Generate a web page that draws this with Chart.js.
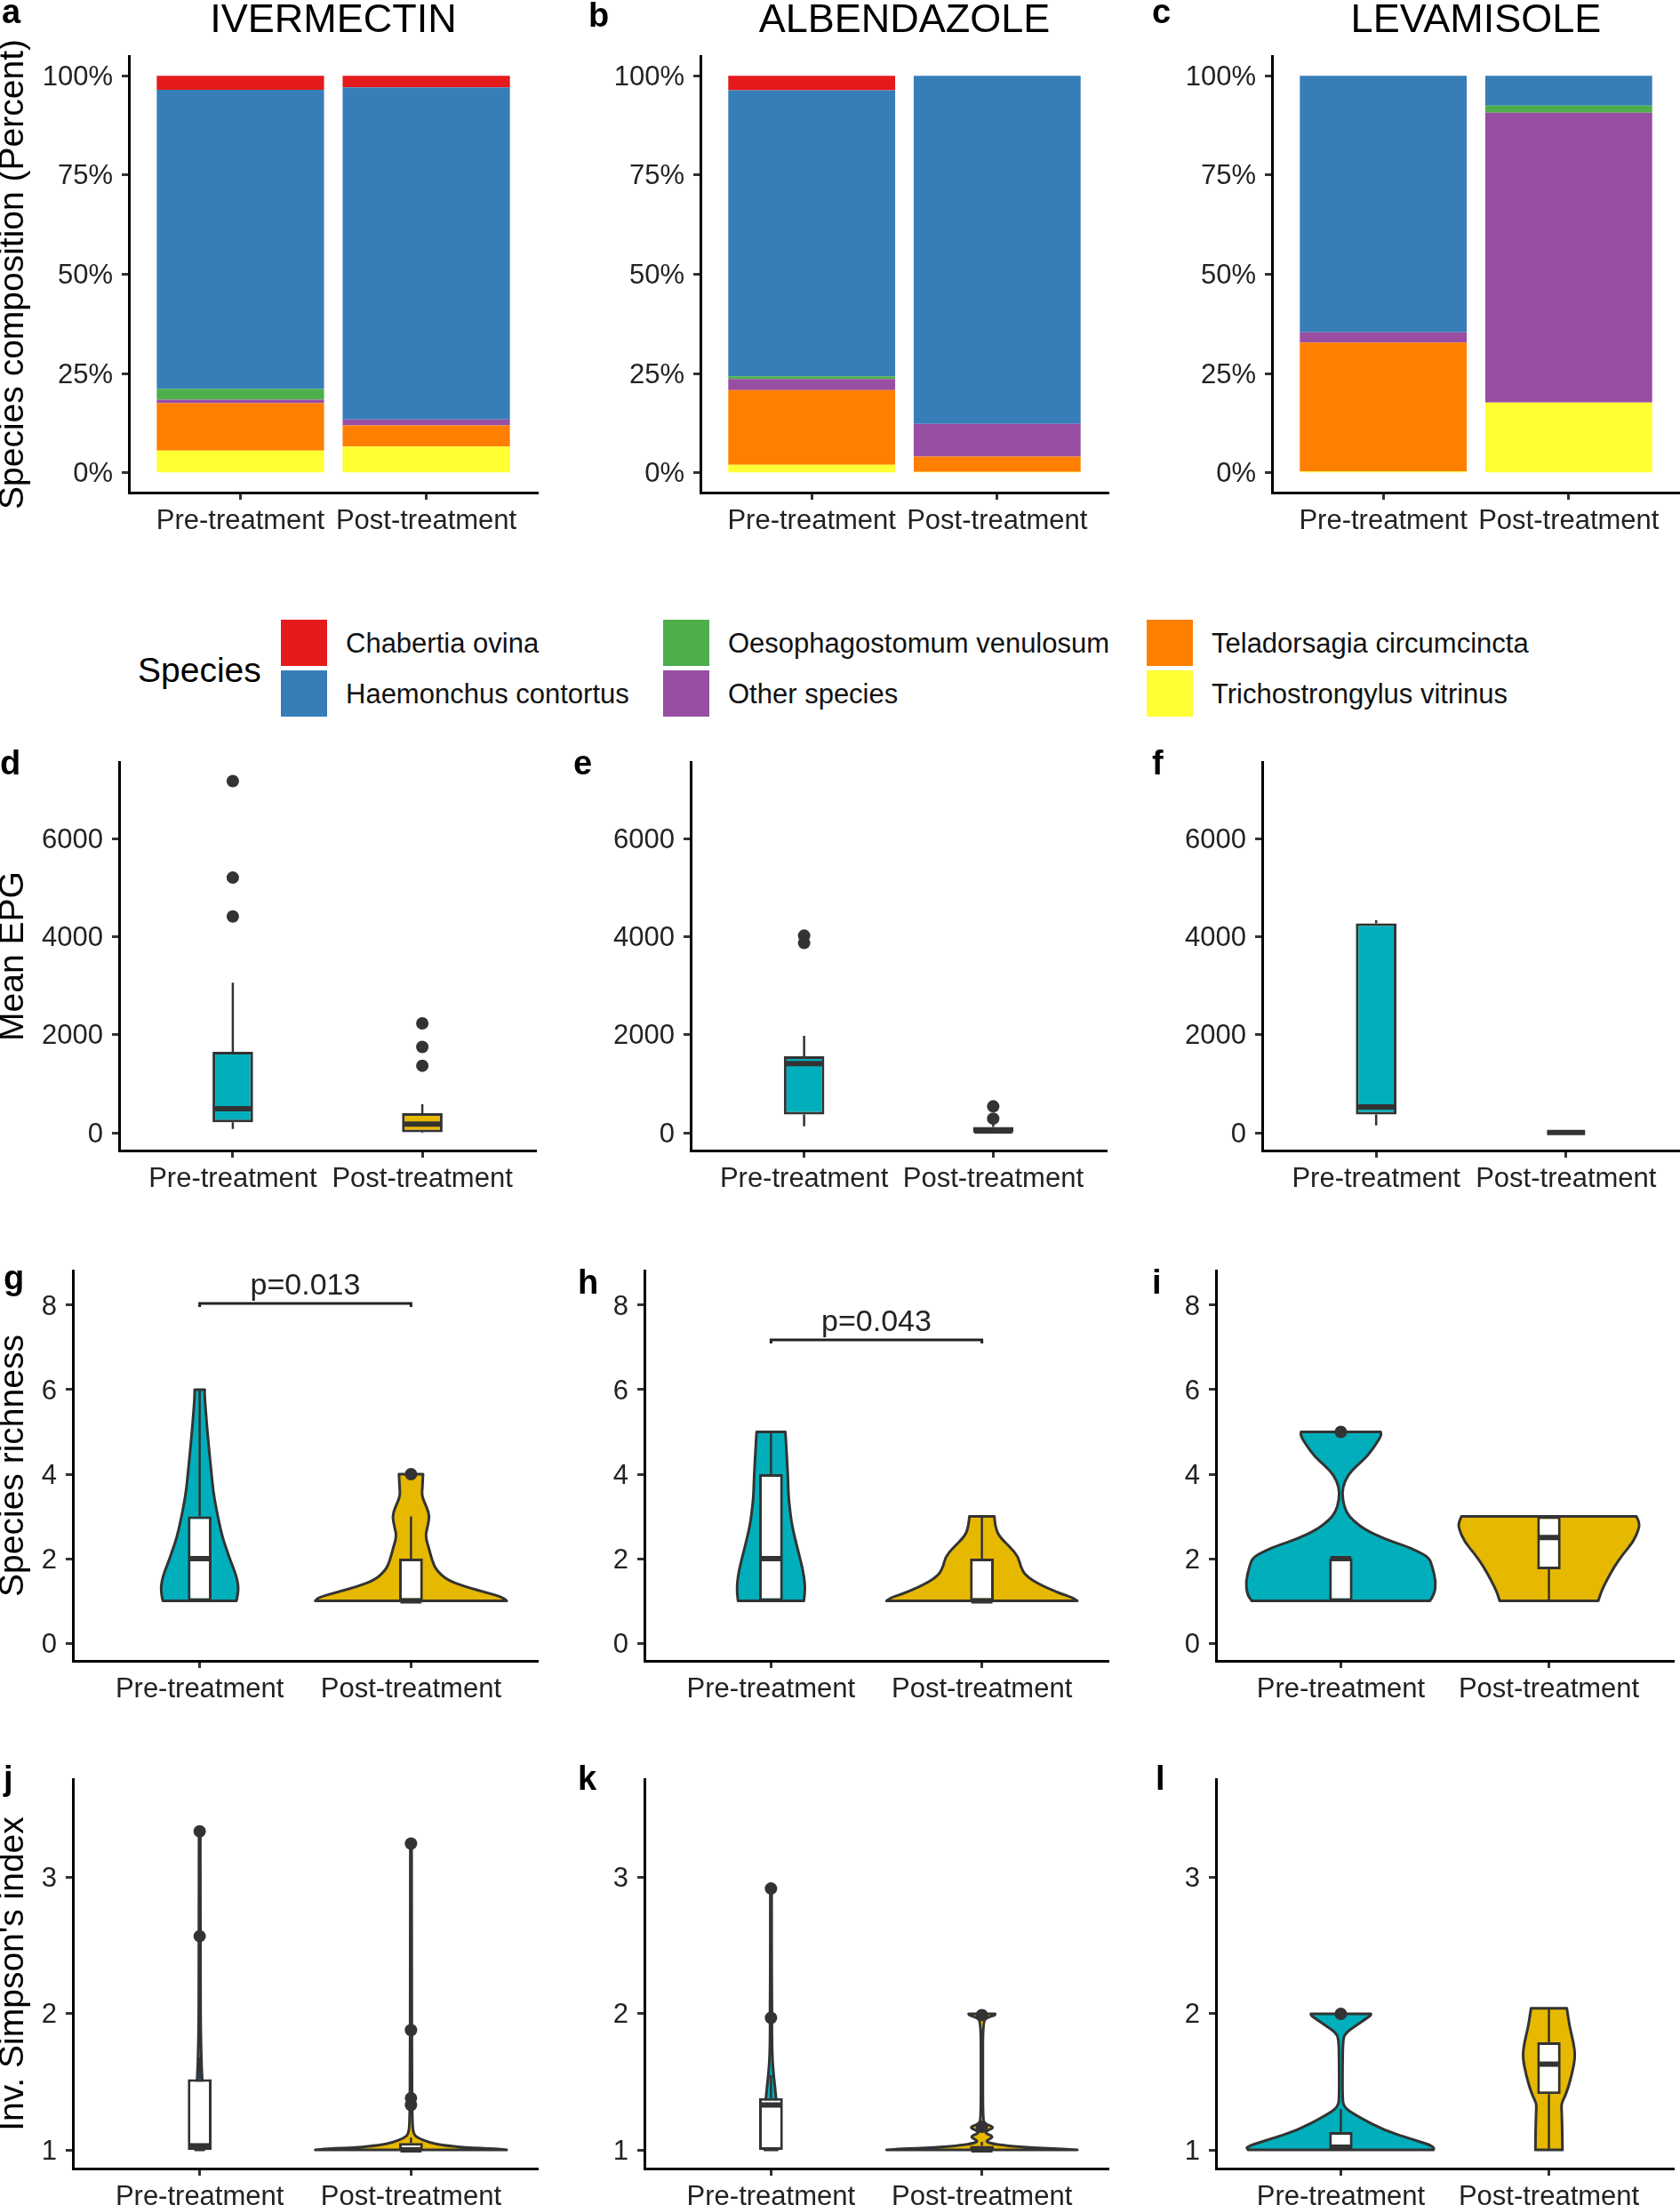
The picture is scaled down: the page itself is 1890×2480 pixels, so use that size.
<!DOCTYPE html>
<html>
<head>
<meta charset="utf-8">
<title>Species composition, EPG and diversity by drug</title>
<script src="https://cdn.jsdelivr.net/npm/chart.js@4.4.1/dist/chart.umd.min.js"></script>
<style>
  html, body { margin: 0; padding: 0; background: #fff; }
  body { width: 1890px; height: 2480px; position: relative; overflow: hidden;
         font-family: "Liberation Sans", Arial, Helvetica, sans-serif; }
  canvas { position: absolute; }
  .txt { position: absolute; white-space: nowrap; line-height: 1; color: #000; }
  .key { position: absolute; width: 52px; height: 52px; }
</style>
</head>
<body>
<script>
Chart.defaults.font.family = '"Liberation Sans", Arial, Helvetica, sans-serif';
Chart.defaults.color = "#222";

// ---------- data ----------
const groups = ["Pre-treatment", "Post-treatment"];
const drugs = ["IVERMECTIN", "ALBENDAZOLE", "LEVAMISOLE"];
const speciesNames = [
  "Chabertia ovina",
  "Haemonchus contortus",
  "Oesophagostomum venulosum",
  "Other species",
  "Teladorsagia circumcincta",
  "Trichostrongylus vitrinus",
];
const speciesColors = ["#E41A1C", "#377EB8", "#4DAF4A", "#984EA3", "#FF7F00", "#FFFF33"];

// species composition (%), same order as speciesNames
const ivmPre = [3.5, 75.4, 2.7, 0.9, 11.9, 5.6];
const ivmPost = [2.9, 83.7, 0, 1.5, 5.3, 6.6];
const albPre = [3.6, 72.1, 0.7, 2.8, 18.8, 2.0];
const albPost = [0, 87.7, 0, 8.2, 3.9, 0.2];
const levPre = [0, 64.6, 0, 2.6, 32.5, 0.3];
const levPost = [0, 7.5, 1.8, 73.0, 0, 17.7];

const pctTicks = [0, 25, 50, 75, 100];
const epgTicks = [0, 2000, 4000, 6000];
const richTicks = [0, 2, 4, 6, 8];
const simTicks = [1, 2, 3];

// box stats: lower whisker, Q1, median, Q3, upper whisker
const epgIvmPre = [78, 216, 490, 1650, 3060];
const epgIvmPost = [0, 12, 180, 402, 582];
const epgAlbPre = [132, 372, 1410, 1560, 1980];
const epgAlbPost = [0, 0, 40, 120, 240];
const epgLevPre = [150, 372, 528, 4272, 4332];
const epgLevPost = [0, 0, 5, 15, 20];
const epgIvmPreOut = [4410, 5202, 7170];
const epgIvmPostOut = [1368, 1752, 2232];
const epgAlbPreOut = [3870, 4020];
const epgAlbPostOut = [290, 540];
const epgLevPreOut = [];
const epgLevPostOut = [];

const richIvmPre = [1, 1, 2, 3, 6];
const richIvmPost = [1, 1, 1, 2, 3];
const richAlbPre = [1, 1, 2, 4, 5];
const richAlbPost = [1, 1, 1, 2, 3];
const richLevPre = [1, 1, 2, 2, 2];
const richLevPost = [1, 1.75, 2.5, 3, 3];
const richIvmPreOut = [];
const richIvmPostOut = [4];
const richAlbPreOut = [];
const richAlbPostOut = [];
const richLevPreOut = [5];
const richLevPostOut = [];

const simIvmPre = [1, 1, 1.03, 1.52, 1.68];
const simIvmPost = [1, 1, 1.0, 1.05, 1.09];
const simAlbPre = [1, 1, 1.33, 1.38, 1.55];
const simAlbPost = [1, 1, 1.0, 1.03, 1.06];
const simLevPre = [1, 1, 1.02, 1.13, 1.3];
const simLevPost = [1, 1.41, 1.63, 1.79, 2.04];
const simIvmPreOut = [2.57, 3.34];
const simIvmPostOut = [1.33, 1.38, 1.88, 3.25];
const simAlbPreOut = [1.97, 2.92];
const simAlbPostOut = [1.17, 1.99];
const simLevPreOut = [2.0];
const simLevPostOut = [];

// violin outlines: y levels and half widths (in category units)
const richIvmPreY = [1.0, 1.15, 1.35, 1.55, 1.75, 2.0, 2.2, 2.5, 2.9, 3.25, 3.6, 4.0, 4.7, 5.4, 5.9, 6.0];
const richIvmPreW = [0.174, 0.181, 0.183, 0.175, 0.162, 0.142, 0.129, 0.108, 0.09, 0.076, 0.064, 0.056, 0.042, 0.03, 0.023, 0.024];
const richIvmPostY = [1.0, 1.08, 1.2, 1.34, 1.5, 1.74, 1.96, 2.24, 2.53, 2.75, 3.0, 3.2, 3.48, 3.7, 4.0];
const richIvmPostW = [0.453, 0.439, 0.355, 0.254, 0.169, 0.118, 0.1, 0.085, 0.068, 0.078, 0.088, 0.076, 0.051, 0.054, 0.057];
const richAlbPreY = [1.0, 1.2, 1.45, 1.7, 1.88, 2.32, 2.6, 2.9, 3.2, 3.48, 3.98, 4.49, 4.78, 5.0];
const richAlbPreW = [0.156, 0.161, 0.16, 0.152, 0.144, 0.122, 0.108, 0.096, 0.089, 0.083, 0.08, 0.074, 0.071, 0.068];
const richAlbPostY = [1.0, 1.09, 1.16, 1.38, 1.59, 1.81, 2.03, 2.24, 2.53, 2.75, 3.0];
const richAlbPostW = [0.452, 0.428, 0.377, 0.276, 0.208, 0.183, 0.174, 0.14, 0.081, 0.064, 0.059];
const richLevPreY = [1.0, 1.15, 1.45, 1.81, 2.03, 2.17, 2.28, 2.46, 2.68, 2.9, 3.1, 3.4, 3.69, 3.98, 4.2, 4.42, 4.71, 4.92, 5.0];
const richLevPreW = [0.428, 0.45, 0.457, 0.44, 0.423, 0.37, 0.32, 0.212, 0.118, 0.059, 0.025, 0.008, 0.008, 0.034, 0.076, 0.127, 0.169, 0.195, 0.191];
const richLevPostY = [1.0, 1.2, 1.5, 1.8, 2.1, 2.4, 2.7, 2.85, 3.0];
const richLevPostW = [0.237, 0.249, 0.279, 0.313, 0.355, 0.406, 0.432, 0.435, 0.42];

const simIvmPreY = [1.0, 1.05, 1.15, 1.3, 1.5, 1.7, 2.0, 2.5, 3.0, 3.34];
const simIvmPreW = [0.02, 0.03, 0.025, 0.02, 0.012, 0.007, 0.004, 0.004, 0.003, 0.003];
const simIvmPostY = [1.0, 1.008, 1.017, 1.035, 1.054, 1.087, 1.115, 1.2, 1.6, 2.2, 2.8, 3.25];
const simIvmPostW = [0.453, 0.4, 0.254, 0.15, 0.085, 0.034, 0.012, 0.006, 0.004, 0.004, 0.003, 0.003];
const simAlbPreY = [1.0, 1.2, 1.38, 1.54, 1.68, 1.9, 2.0, 2.1, 2.5, 2.92];
const simAlbPreW = [0.03, 0.03, 0.025, 0.013, 0.006, 0.004, 0.005, 0.004, 0.003, 0.003];
const simAlbPostY = [1.0, 1.008, 1.015, 1.03, 1.045, 1.06, 1.075, 1.098, 1.125, 1.145, 1.167, 1.19, 1.22, 1.6, 1.95, 1.975, 1.99, 2.0];
const simAlbPostW = [0.452, 0.38, 0.24, 0.12, 0.05, 0.02, 0.03, 0.056, 0.012, 0.03, 0.059, 0.015, 0.005, 0.004, 0.005, 0.03, 0.062, 0.063];
const simLevPreY = [1.0, 1.022, 1.076, 1.141, 1.25, 1.315, 1.4, 1.6, 1.82, 1.86, 1.9, 1.96, 1.99, 2.0];
const simLevPreW = [0.445, 0.457, 0.347, 0.212, 0.076, 0.012, 0.008, 0.008, 0.01, 0.025, 0.059, 0.118, 0.145, 0.144];
const simLevPostY = [1.0, 1.15, 1.3, 1.34, 1.42, 1.55, 1.685, 1.79, 1.9, 2.0, 2.04];
const simLevPostW = [0.065, 0.064, 0.061, 0.06, 0.085, 0.11, 0.127, 0.118, 0.1, 0.09, 0.086];

const richPLabels = ["p=0.013", "p=0.043"];
const richPHeights = [8.04, 7.18];

// ---------- layout (page pixels) ----------
const TEAL = "#00AFBB";
const GOLD = "#E7B800";
const INK = "#333";
const colL = [[145, 788, 1431], [134, 777, 1420], [82, 725, 1368], [82, 725, 1368]];
const colR = [[605, 1247, 1890], [603, 1245, 1890], [605, 1247, 1890], [605, 1247, 1890]];
const rowT = [63, 857, 1429, 2001];
const rowB = [554, 1294, 1868, 2439];

const makeCanvas = (row, col) => {
  const L = colL[row][col], R = colR[row][col], T = rowT[row], B = rowB[row];
  const left = col === 0 ? 0 : L - 140;
  const top = T - 34;
  const right = Math.min(R + 10, 1890);
  const bottom = Math.min(B + 70, 2480);
  const cv = document.createElement("canvas");
  cv.width = right - left;
  cv.height = bottom - top;
  cv.style.left = left + "px";
  cv.style.top = top + "px";
  cv.style.width = cv.width + "px";
  cv.style.height = cv.height + "px";
  document.body.appendChild(cv);
  return { cv, yw: L - left, xh: bottom - B, tp: 34, rp: right - R, unit: (R - L) / 2.2 };
};

const axisGrid = {
  drawOnChartArea: false,
  drawTicks: true,
  tickLength: 8,
  tickWidth: 3,
  tickColor: INK,
  offset: false,
};

const xScale = (g) => ({
  type: "linear",
  min: 0.4,
  max: 2.6,
  offset: false,
  afterBuildTicks: (s) => {
    s.ticks = [{ value: 1 }, { value: 2 }];
  },
  afterFit: (s) => {
    s.height = g.xh;
  },
  ticks: {
    callback: (v) => groups[v - 1],
    font: { size: 31 },
    color: "#222",
    padding: 6,
    autoSkip: false,
    maxRotation: 0,
    minRotation: 0,
  },
  grid: axisGrid,
  border: { color: "#000", width: 3 },
});

const yScale = (g, min, max, tickVals, fmt, title) => ({
  type: "linear",
  min,
  max,
  afterBuildTicks: (s) => {
    s.ticks = tickVals.map((v) => ({ value: v }));
  },
  afterFit: (s) => {
    s.width = g.yw;
  },
  ticks: { callback: fmt, font: { size: 31 }, color: "#222", padding: 10, labelOffset: 2, autoSkip: false },
  grid: axisGrid,
  border: { color: "#000", width: 3 },
  title: {
    display: !!title,
    text: title || "",
    font: { size: 39, lineHeight: 0.8 },
    color: "#000",
    padding: 0,
  },
});

const baseOptions = (g, x, y) => ({
  responsive: false,
  animation: false,
  devicePixelRatio: 1,
  events: [],
  layout: { padding: { top: g.tp, right: g.rp, left: 0, bottom: 0 } },
  plugins: { legend: { display: false }, tooltip: { enabled: false } },
  scales: { x, y },
});

// quadratic smoothing through the mid points of an outline
const smoothTo = (ctx, pts) => {
  for (let i = 1; i < pts.length - 1; i++) {
    const mx = (pts[i][0] + pts[i + 1][0]) / 2;
    const my = (pts[i][1] + pts[i + 1][1]) / 2;
    ctx.quadraticCurveTo(pts[i][0], pts[i][1], mx, my);
  }
  const last = pts[pts.length - 1];
  ctx.lineTo(last[0], last[1]);
};

// violins, whiskers, medians and p-value bracket, all placed with the chart scales
const makeExtras = (o) => ({
  id: "boxExtras",
  beforeDatasetsDraw(chart) {
    const { ctx } = chart;
    const xs = chart.scales.x;
    const ys = chart.scales.y;
    ctx.save();
    ctx.lineJoin = "round";
    ctx.strokeStyle = INK;
    o.violins.forEach((v) => {
      const right = v.ys.map((val, i) => [xs.getPixelForValue(v.at + v.ws[i]), ys.getPixelForValue(val)]);
      const left = v.ys.map((val, i) => [xs.getPixelForValue(v.at - v.ws[i]), ys.getPixelForValue(val)]).reverse();
      ctx.beginPath();
      ctx.moveTo(right[0][0], right[0][1]);
      smoothTo(ctx, right);
      ctx.lineTo(left[0][0], left[0][1]);
      smoothTo(ctx, left);
      ctx.closePath();
      ctx.fillStyle = v.color;
      ctx.fill();
      ctx.lineWidth = 3;
      ctx.stroke();
    });
    o.boxes.forEach((b) => {
      const cx = xs.getPixelForValue(b.at);
      ctx.beginPath();
      ctx.moveTo(cx, ys.getPixelForValue(b.stats[0]));
      ctx.lineTo(cx, ys.getPixelForValue(b.stats[1]));
      ctx.moveTo(cx, ys.getPixelForValue(b.stats[3]));
      ctx.lineTo(cx, ys.getPixelForValue(b.stats[4]));
      ctx.lineWidth = 2.5;
      ctx.stroke();
    });
    ctx.restore();
  },
  afterDatasetsDraw(chart) {
    const { ctx } = chart;
    const xs = chart.scales.x;
    const ys = chart.scales.y;
    ctx.save();
    ctx.strokeStyle = INK;
    o.boxes.forEach((b) => {
      const ym = ys.getPixelForValue(b.stats[2]);
      ctx.beginPath();
      ctx.moveTo(xs.getPixelForValue(b.at - b.width / 2), ym);
      ctx.lineTo(xs.getPixelForValue(b.at + b.width / 2), ym);
      ctx.lineWidth = 6;
      ctx.stroke();
    });
    if (o.pLabel) {
      const x1 = xs.getPixelForValue(1);
      const x2 = xs.getPixelForValue(2);
      const yy = ys.getPixelForValue(o.pY);
      ctx.beginPath();
      ctx.moveTo(x1, yy + 4);
      ctx.lineTo(x1, yy);
      ctx.lineTo(x2, yy);
      ctx.lineTo(x2, yy + 4);
      ctx.lineWidth = 3;
      ctx.strokeStyle = "#222";
      ctx.stroke();
      ctx.fillStyle = "#222";
      ctx.font = '34px "Liberation Sans", Arial, sans-serif';
      ctx.textAlign = "center";
      ctx.textBaseline = "alphabetic";
      ctx.fillText(o.pLabel, (x1 + x2) / 2, yy - 10);
    }
    ctx.restore();
  },
});

const compositionChart = (col, pre, post) => {
  const g = makeCanvas(0, col);
  const datasets = [];
  for (let s = speciesNames.length - 1; s >= 0; s--) {
    datasets.push({
      type: "bar",
      label: speciesNames[s],
      data: [{ x: 1, y: pre[s] }, { x: 2, y: post[s] }],
      backgroundColor: speciesColors[s],
      borderWidth: 0,
      barPercentage: 0.9,
      categoryPercentage: 1,
    });
  }
  const x = xScale(g);
  x.stacked = true;
  const y = yScale(g, -5, 105, pctTicks, (v) => v + "%", col === 0 ? "Species composition (Percent)" : null);
  y.stacked = true;
  return new Chart(g.cv, { type: "bar", data: { datasets }, options: baseOptions(g, x, y) });
};

const boxChart = (row, col, o) => {
  const g = makeCanvas(row, col);
  const outliers = o.preOut.map((v) => ({ x: 1, y: v })).concat(o.postOut.map((v) => ({ x: 2, y: v })));
  const datasets = [
    {
      type: "scatter",
      data: outliers,
      backgroundColor: INK,
      borderWidth: 0,
      pointRadius: 7,
      order: 0,
    },
    {
      type: "bar",
      data: [
        { x: 1, y: [o.pre[1], o.pre[3]] },
        { x: 2, y: [o.post[1], o.post[3]] },
      ],
      backgroundColor: o.boxFill,
      borderColor: INK,
      borderWidth: 3,
      borderSkipped: false,
      barPercentage: o.width + 3 / g.unit,
      categoryPercentage: 1,
      order: 1,
    },
  ];
  const extras = makeExtras({
    violins: o.violins || [],
    boxes: [
      { at: 1, stats: o.pre, width: o.width },
      { at: 2, stats: o.post, width: o.width },
    ],
    pLabel: o.pLabel,
    pY: o.pY,
  });
  const x = xScale(g);
  const y = yScale(g, o.min, o.max, o.ticks, (v) => String(v), col === 0 ? o.title : null);
  return new Chart(g.cv, {
    type: "bar",
    data: { datasets },
    options: baseOptions(g, x, y),
    plugins: [extras],
  });
};

// ---------- row 1: species composition ----------
compositionChart(0, ivmPre, ivmPost);
compositionChart(1, albPre, albPost);
compositionChart(2, levPre, levPost);

// ---------- row 2: mean EPG ----------
const epgSets = [
  [epgIvmPre, epgIvmPost, epgIvmPreOut, epgIvmPostOut],
  [epgAlbPre, epgAlbPost, epgAlbPreOut, epgAlbPostOut],
  [epgLevPre, epgLevPost, epgLevPreOut, epgLevPostOut],
];
epgSets.forEach((d, col) => {
  boxChart(1, col, {
    min: -360, max: 7560, ticks: epgTicks, title: "Mean EPG",
    pre: d[0], post: d[1], preOut: d[2], postOut: d[3],
    width: 0.2, boxFill: [TEAL, GOLD],
  });
});

// ---------- row 3: species richness ----------
const richSets = [
  [richIvmPre, richIvmPost, richIvmPreOut, richIvmPostOut, richIvmPreY, richIvmPreW, richIvmPostY, richIvmPostW],
  [richAlbPre, richAlbPost, richAlbPreOut, richAlbPostOut, richAlbPreY, richAlbPreW, richAlbPostY, richAlbPostW],
  [richLevPre, richLevPost, richLevPreOut, richLevPostOut, richLevPreY, richLevPreW, richLevPostY, richLevPostW],
];
richSets.forEach((d, col) => {
  boxChart(2, col, {
    min: -0.42, max: 8.82, ticks: richTicks, title: "Species richness",
    pre: d[0], post: d[1], preOut: d[2], postOut: d[3],
    width: 0.1, boxFill: "#fff",
    violins: [
      { at: 1, ys: d[4], ws: d[5], color: TEAL },
      { at: 2, ys: d[6], ws: d[7], color: GOLD },
    ],
    pLabel: richPLabels[col], pY: richPHeights[col],
  });
});

// ---------- row 4: inverse Simpson ----------
const simSets = [
  [simIvmPre, simIvmPost, simIvmPreOut, simIvmPostOut, simIvmPreY, simIvmPreW, simIvmPostY, simIvmPostW],
  [simAlbPre, simAlbPost, simAlbPreOut, simAlbPostOut, simAlbPreY, simAlbPreW, simAlbPostY, simAlbPostW],
  [simLevPre, simLevPost, simLevPreOut, simLevPostOut, simLevPreY, simLevPreW, simLevPostY, simLevPostW],
];
simSets.forEach((d, col) => {
  boxChart(3, col, {
    min: 0.863, max: 3.724, ticks: simTicks, title: "Inv. Simpson's index",
    pre: d[0], post: d[1], preOut: d[2], postOut: d[3],
    width: 0.1, boxFill: "#fff",
    violins: [
      { at: 1, ys: d[4], ws: d[5], color: TEAL },
      { at: 2, ys: d[6], ws: d[7], color: GOLD },
    ],
  });
});

// ---------- page text: panel letters, drug titles, legend ----------
const addText = (str, x, baseline, size, opts = {}) => {
  const el = document.createElement("div");
  el.className = "txt";
  el.textContent = str;
  el.style.fontSize = size + "px";
  el.style.top = (baseline - 0.8465 * size).toFixed(1) + "px";
  el.style.left = x + "px";
  if (opts.bold) el.style.fontWeight = "bold";
  if (opts.center) el.style.transform = "translateX(-50%)";
  if (opts.color) el.style.color = opts.color;
  document.body.appendChild(el);
};

const letters = [
  ["a", 2, 26], ["b", 662, 30], ["c", 1296, 26],
  ["d", 0, 871], ["e", 645, 871], ["f", 1296, 871],
  ["g", 4, 1450], ["h", 650, 1455], ["i", 1296, 1455],
  ["j", 4, 2013], ["k", 650, 2013], ["l", 1300, 2013],
];
letters.forEach(([t, x, b]) => addText(t, x, b, 38, { bold: true }));

drugs.forEach((d, i) => addText(d, (colL[0][i] + colR[0][i]) / 2, 36, 45, { center: true }));

addText("Species", 155, 753 + 0.358 * 39, 39);
const legendCols = [316, 746, 1290];
const legendRows = [697, 754];
speciesNames.forEach((name, i) => {
  const c = Math.floor(i / 2);
  const r = i % 2;
  const key = document.createElement("div");
  key.className = "key";
  key.style.left = legendCols[c] + "px";
  key.style.top = legendRows[r] + "px";
  key.style.background = speciesColors[i];
  document.body.appendChild(key);
  addText(name, legendCols[c] + 73, legendRows[r] + 26.5 + 0.358 * 31, 31, { color: "#111" });
});
</script>
</body>
</html>
